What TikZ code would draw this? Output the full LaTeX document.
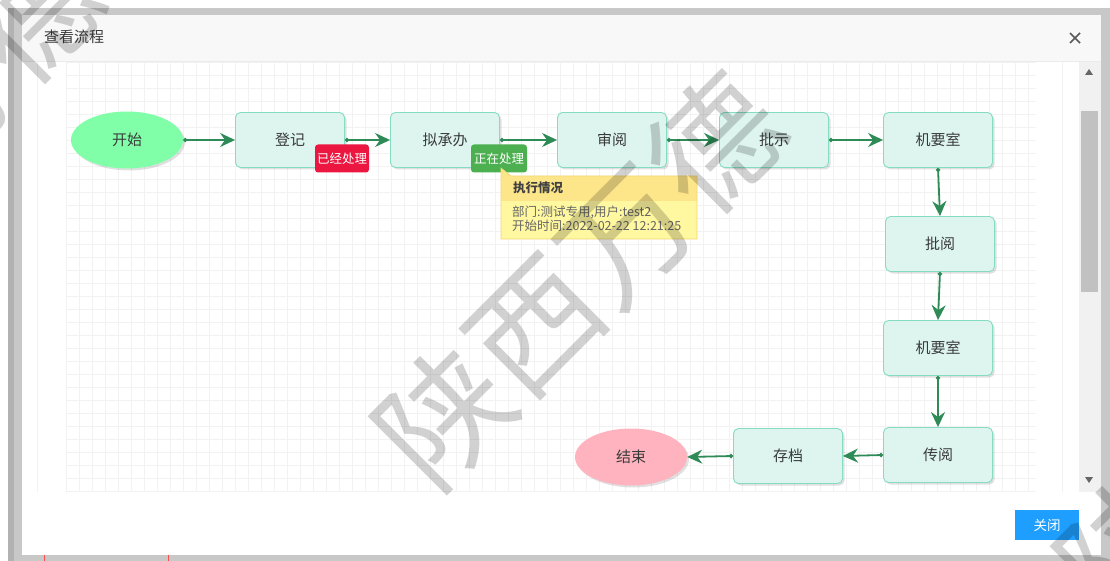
\documentclass[tikz,border=0pt]{standalone}
\usepackage{fontspec}
\setmainfont{Noto Sans CJK SC}
\usetikzlibrary{arrows.meta,shapes.geometric,shadows}
\definecolor{frame}{HTML}{C8C8C8}
\definecolor{titlebg}{HTML}{F8F8F8}
\definecolor{gridc}{HTML}{F2F2F2}
\definecolor{nodefill}{HTML}{DDF5EE}
\definecolor{nodedraw}{HTML}{86DCC3}
\definecolor{edgec}{HTML}{2E8B57}
\definecolor{startc}{HTML}{80FFA8}
\definecolor{endc}{HTML}{FFB3BF}
\definecolor{badgered}{HTML}{EB1740}
\definecolor{badgegreen}{HTML}{4CAF50}
\definecolor{tiphead}{HTML}{FDE68A}
\definecolor{tipbody}{HTML}{FFF8A0}
\definecolor{tipdraw}{HTML}{F3D66E}
\definecolor{txt}{HTML}{3A3A3A}
\definecolor{btnblue}{HTML}{1E9FFF}
\definecolor{thumb}{HTML}{C1C1C1}
\definecolor{track}{HTML}{F1F1F1}
\tikzset{
  flownode/.style={rectangle, rounded corners=5pt, draw=nodedraw, line width=0.9pt,
    fill=nodefill, minimum width=109pt, minimum height=55pt, inner sep=0pt,
    text=txt, font=\fontsize{15pt}{17pt}\selectfont,
    drop shadow={shadow xshift=2pt, shadow yshift=-2pt, opacity=0.12, fill=black}},
  termnode/.style={ellipse, minimum width=112pt, minimum height=57pt, inner sep=0pt,
    text=txt, font=\fontsize{15pt}{17pt}\selectfont,
    drop shadow={shadow xshift=2pt, shadow yshift=-2pt, opacity=0.12, fill=black}},
  badge/.style={rectangle, rounded corners=3pt, minimum width=54pt, minimum height=28pt,
    inner sep=0pt, text=white, font=\fontsize{12.5pt}{14pt}\selectfont},
  flow/.style={draw=edgec, line width=1.8pt},
  startdot/.style={{Circle[length=4pt,width=4pt]}-{Stealth[length=15pt,width=14pt,inset=5pt]}},
  tiptext/.style={anchor=west, text=black!60, font=\fontsize{12.5pt}{13pt}\selectfont, inner sep=0pt},
  wmark/.style={rotate=45, text=black, opacity=0.18, font=\fontsize{128pt}{130pt}\selectfont, inner sep=0pt}
}
\begin{document}
\begin{tikzpicture}[x=1pt,y=-1pt]
\useasboundingbox (0,0) rectangle (1110,561);
\fill[white] (0,0) rectangle (1110,561);
% outer frame
\fill[frame] (8,8) rectangle (1110,561);
\fill[black!30] (8,8) rectangle (14,561);
\fill[white] (22,15) rectangle (1101,555);
\draw[red!70, line width=0.8pt] (44,555) -- (44,561);
\draw[red!70, line width=0.8pt] (168,555) -- (168,561);
% title bar
\fill[titlebg] (22,15) rectangle (1101,61);
\draw[black!8] (22,61) -- (1101,61);
\node[anchor=west, text=txt, font=\fontsize{15pt}{17pt}\selectfont, inner sep=0pt] (title) at (44,37) {查看流程};
\coordinate (xc) at (1075,38);
\draw[black!65, line width=1.5pt] ([shift={(-5,-5)}]xc) -- ([shift={(5,5)}]xc);
\draw[black!65, line width=1.5pt] ([shift={(-5,5)}]xc) -- ([shift={(5,-5)}]xc);
% grid canvas
\draw[black!5] (37,62) -- (37,492);
\draw[black!5] (1062,62) -- (1062,492);
\begin{scope}
\clip (66,62) rectangle (1036,492);
\foreach \gx in {66,79,...,1040} \draw[gridc, line width=0.6pt] (\gx,62) -- (\gx,492);
\foreach \gy in {62,75,...,495} \draw[gridc, line width=0.6pt] (66,\gy) -- (1036,\gy);
\end{scope}
% scrollbar
\fill[track] (1079,62) rectangle (1101,492);
\fill[thumb] (1081,111) rectangle (1098,292);
\fill[black!60] (1085,75) -- (1093,75) -- (1089,69) -- cycle;
\fill[black!60] (1085,477) -- (1093,477) -- (1089,483) -- cycle;
% nodes
\node[termnode, fill=startc] (start) at (127,140) {开始};
\node[flownode] (dj) at (290,140) {登记};
\node[flownode] (ncb) at (445,140) {拟承办};
\node[flownode] (sy) at (612,140) {审阅};
\node[flownode] (ps) at (774,140) {批示};
\node[flownode] (jys1) at (938,140) {机要室};
\node[flownode] (py) at (940,244) {批阅};
\node[flownode] (jys2) at (938,348) {机要室};
\node[flownode] (cy) at (938,455) {传阅};
\node[flownode] (cd) at (788,456) {存档};
\node[termnode, fill=endc] (end) at (631,457) {结束};
% connectors
\draw[flow, startdot] (start.east) -- (dj.west);
\draw[flow, startdot] (dj.east) -- (ncb.west);
\draw[flow, startdot] (ncb.east) -- (sy.west);
\draw[flow, startdot] (sy.east) -- (ps.west);
\draw[flow, startdot] (ps.east) -- (jys1.west);
\draw[flow, startdot] (jys1.south) -- (py.north);
\draw[flow, startdot] (py.south) -- (jys2.north);
\draw[flow, startdot] (jys2.south) -- (cy.north);
\draw[flow, startdot] (cy.west) -- (cd.east);
\draw[flow, startdot] (cd.west) -- (end.east);
% badges
\node[badge, fill=badgered] (done) at (342,158.5) {已经处理};
\node[badge, fill=badgegreen, minimum width=56pt] (doing) at (499,158.5) {正在处理};
% tooltip
\fill[tiphead] (501,168) -- (511,176) -- (697,176) -- (697,201) -- (501,201) -- cycle;
\fill[tipbody] (501,201) rectangle (697,239);
\draw[tipdraw, line width=0.6pt] (501,168) -- (511,176) -- (697,176) -- (697,239) -- (501,239) -- cycle;
\node[tiptext, text=black!75, font=\bfseries\fontsize{12.5pt}{13pt}\selectfont] (tiptitle) at (513,188) {执行情况};
\node[tiptext] (tipl1) at (512,212) {部门:测试专用,用户:test2};
\node[tiptext] (tipl2) at (512,226) {开始时间:2022-02-22 12:21:25};
% close button
\node[rectangle, fill=btnblue, minimum width=64pt, minimum height=30pt, inner sep=0pt,
  text=white, font=\fontsize{13.5pt}{15pt}\selectfont] (close) at (1047,525) {关闭};
% watermark
\begin{scope}
\clip (0,0) rectangle (1110,561);
\node[wmark] (wm1) at (580,280) {陕西万德};
\node[wmark] (wm2) at (1262,410) {陕西万德};
\node[wmark] (wm3) at (-102,150) {陕西万德};
\end{scope}
\end{tikzpicture}
\end{document}
